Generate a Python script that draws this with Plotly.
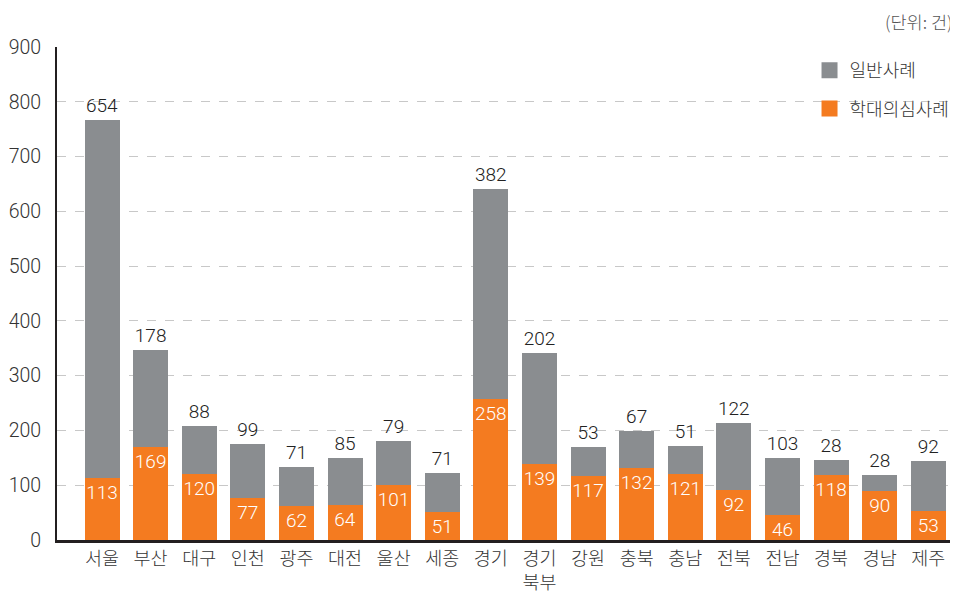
import plotly.graph_objects as go

categories = ["서울", "부산", "대구", "인천", "광주", "대전", "울산", "세종", "경기",
              "경기<br>북부", "강원", "충북", "충남", "전북", "전남", "경북", "경남", "제주"]
abuse_suspected = [113, 169, 120, 77, 62, 64, 101, 51, 258, 139, 117, 132, 121, 92, 46, 118, 90, 53]
general_cases = [654, 178, 88, 99, 71, 85, 79, 71, 382, 202, 53, 67, 51, 122, 103, 28, 28, 92]
y_ticks = [0, 100, 200, 300, 400, 500, 600, 700, 800, 900]

ORANGE = "#F47B20"
GRAY = "#8A8D90"
FONT = "Roboto, Liberation Sans, Noto Sans CJK KR, sans-serif"
KFONT = "Noto Sans CJK KR, sans-serif"

fig = go.Figure()
fig.add_trace(go.Bar(
    x=categories, y=abuse_suspected, name="학대의심사례",
    marker=dict(color=ORANGE, line=dict(width=0)),
    text=abuse_suspected, textposition="inside", insidetextanchor="end",
    textangle=0, constraintext="none",
    textfont=dict(color="white", size=19, family=FONT, weight=300),
    showlegend=False, cliponaxis=False,
))
fig.add_trace(go.Bar(
    x=categories, y=general_cases, name="일반사례",
    marker=dict(color=GRAY, line=dict(width=0)),
    text=general_cases, textposition="outside", textangle=0, constraintext="none",
    textfont=dict(color="#222222", size=19, family=FONT, weight=300),
    showlegend=False, cliponaxis=False,
))
# legend entries with larger square swatches
fig.add_trace(go.Scatter(x=[None], y=[None], mode="markers", name="일반사례",
                         legendgroup="g1",
                         marker=dict(symbol="square", size=18, color=GRAY)))
fig.add_trace(go.Scatter(x=[None], y=[None], mode="markers", name="학대의심사례",
                         legendgroup="g2",
                         marker=dict(symbol="square", size=18, color=ORANGE)))

fig.update_layout(
    width=950, height=590,
    margin=dict(l=49, r=3, t=39, b=58, autoexpand=False),
    barmode="stack", bargap=0.28,
    plot_bgcolor="white", paper_bgcolor="white",
    font=dict(family=FONT, color="#333333", size=17),
    legend=dict(x=0.838, y=0.99, xanchor="left", yanchor="top",
                traceorder="grouped", tracegroupgap=12,
                font=dict(family=KFONT, size=18, color="#333333", weight=300),
                bgcolor="rgba(0,0,0,0)", borderwidth=0, itemsizing="trace"),
    uniformtext=dict(mode=False),
)
fig.update_xaxes(
    type="category", range=[-0.926, 17.55], automargin=False,
    showline=True, linecolor="#231F20", linewidth=2.5,
    ticks="", tickfont=dict(family=KFONT, size=18.5, color="#333333", weight=300),
    showgrid=False,
)
fig.update_yaxes(
    range=[0, 900], tickvals=y_ticks, automargin=False,
    showline=True, linecolor="#231F20", linewidth=2,
    showgrid=True, gridcolor="#C8C8C8", griddash="dash", gridwidth=1,
    zeroline=False, ticks="", ticklabelstandoff=10,
    tickfont=dict(family=FONT, size=19.5, color="#333333", weight=300),
)

fig.add_annotation(text="(단위: 건)", xref="paper", yref="paper", x=1.0, y=1.051,
                   xanchor="right", yanchor="middle", showarrow=False,
                   font=dict(family=KFONT, size=17.5, color="#555555", weight=300))

fig.write_html("out.html")
